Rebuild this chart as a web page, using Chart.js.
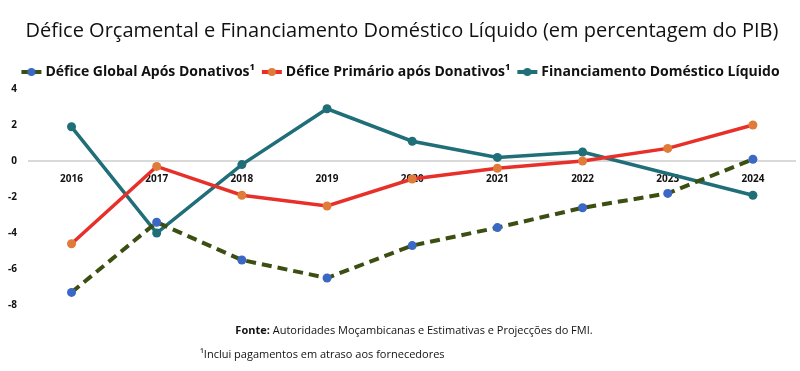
<!DOCTYPE html>
<html>
<head>
<meta charset="utf-8">
<script src="https://cdn.jsdelivr.net/npm/chart.js@4"></script>
<style>
  html, body { margin: 0; padding: 0; background: #fff; }
  #wrap { width: 800px; height: 371px; }
</style>
</head>
<body>
<div id="wrap"><canvas id="graph_container" width="800" height="371"></canvas></div>
<script>
var years = ["2016", "2017", "2018", "2019", "2020", "2021", "2022", "2023", "2024"];
var deficeGlobal = [-7.3, -3.4, -5.5, -6.5, -4.7, -3.7, -2.6, -1.8, 0.1];
var deficePrimario = [-4.6, -0.3, -1.9, -2.5, -1.0, -0.4, 0.0, 0.7, 2.0];
var financiamento = [1.9, -4.0, -0.2, 2.9, 1.1, 0.2, 0.5, null, -1.9];
var yTicks = [4, 2, 0, -2, -4, -6, -8];

var titleText = "Défice Orçamental e Financiamento Doméstico Líquido (em percentagem do PIB)";
var sourceBold = "Fonte:";
var sourceText = " Autoridades Moçambicanas e Estimativas e Projecções do FMI.";
var noteText = "¹Inclui pagamentos em atraso aos fornecedores";

var fontMain = "'Open Sans', 'Noto Sans', sans-serif";

function legendMark(lineColor, dotColor) {
    var c = document.createElement('canvas');
    c.width = 22; c.height = 10;
    var g = c.getContext('2d');
    g.strokeStyle = lineColor;
    g.lineWidth = 4;
    g.beginPath(); g.moveTo(1, 5); g.lineTo(21, 5); g.stroke();
    g.fillStyle = dotColor;
    g.beginPath(); g.arc(11, 5, 4, 0, Math.PI * 2); g.fill();
    return c;
}
var marks = [
    legendMark('#3c4f12', '#3a68c4'),
    legendMark('#e8302a', '#e07b39'),
    legendMark('#1f6e78', '#1f6e78')
];

var footer = {
    id: 'footer',
    afterDraw: function(chart) {
        var ctx = chart.ctx;
        ctx.save();
        ctx.fillStyle = '#111';
        ctx.textBaseline = 'middle';
        ctx.font = "bold 11px " + fontMain;
        var wb = ctx.measureText(sourceBold).width;
        ctx.font = "11px " + fontMain;
        var wt = ctx.measureText(sourceText).width;
        var x0 = 414 - (wb + wt) / 2;
        ctx.font = "bold 11px " + fontMain;
        ctx.fillText(sourceBold, x0, 331);
        ctx.font = "11px " + fontMain;
        ctx.fillText(sourceText, x0 + wb, 331);
        ctx.fillText(noteText, 200, 355);
        ctx.restore();
    }
};

var ctx = document.getElementById('graph_container').getContext('2d');
var myChart = new Chart(ctx, {
    type: 'line',
    data: {
        labels: years,
        datasets: [{
            label: 'Défice Global Após Donativos¹',
            data: deficeGlobal,
            borderColor: '#3c4f12',
            backgroundColor: '#3a68c4',
            pointBackgroundColor: '#3a68c4',
            pointBorderWidth: 0,
            borderWidth: 4,
            borderDash: [10, 6],
            pointRadius: 4.5
        }, {
            label: 'Défice Primário após Donativos¹',
            data: deficePrimario,
            borderColor: '#e8302a',
            backgroundColor: '#e07b39',
            pointBackgroundColor: '#e07b39',
            pointBorderWidth: 0,
            borderWidth: 3.5,
            pointRadius: 4.5
        }, {
            label: 'Financiamento Doméstico Líquido',
            data: financiamento,
            borderColor: '#1f6e78',
            backgroundColor: '#1f6e78',
            pointBackgroundColor: '#1f6e78',
            pointBorderWidth: 0,
            borderWidth: 3.5,
            pointRadius: 4.5,
            spanGaps: true
        }]
    },
    options: {
        responsive: false,
        animation: false,
        layout: { padding: { left: 4, right: 0, top: 0, bottom: 66 } },
        plugins: {
            title: {
                display: true,
                text: titleText,
                color: '#111',
                font: { family: fontMain, size: 20, weight: '500' },
                padding: { top: 19, bottom: 12 }
            },
            legend: {
                labels: {
                    usePointStyle: true,
                    color: '#111',
                    font: { family: fontMain, size: 14, weight: 'bold' },
                    padding: 10,
                    generateLabels: function(chart) {
                        var items = Chart.defaults.plugins.legend.labels.generateLabels(chart);
                        items.forEach(function(it, i) { it.pointStyle = marks[i]; });
                        return items;
                    }
                }
            },
            tooltip: { enabled: false }
        },
        scales: {
            x: {
                position: { y: 0 },
                offset: true,
                grid: { display: false },
                border: { color: '#d9d9d9', width: 2 },
                ticks: {
                    color: '#111',
                    padding: 4,
                    maxRotation: 0,
                    font: { family: fontMain, size: 10, weight: 'bold' }
                }
            },
            y: {
                min: -8,
                max: 4,
                afterBuildTicks: function(scale) {
                    scale.ticks = yTicks.map(function(v) { return { value: v }; });
                },
                grid: { display: false },
                border: { display: false },
                ticks: {
                    color: '#111',
                    padding: 4,
                    font: { family: fontMain, size: 10, weight: 'bold' }
                }
            }
        }
    },
    plugins: [footer]
});
</script>
</body>
</html>
